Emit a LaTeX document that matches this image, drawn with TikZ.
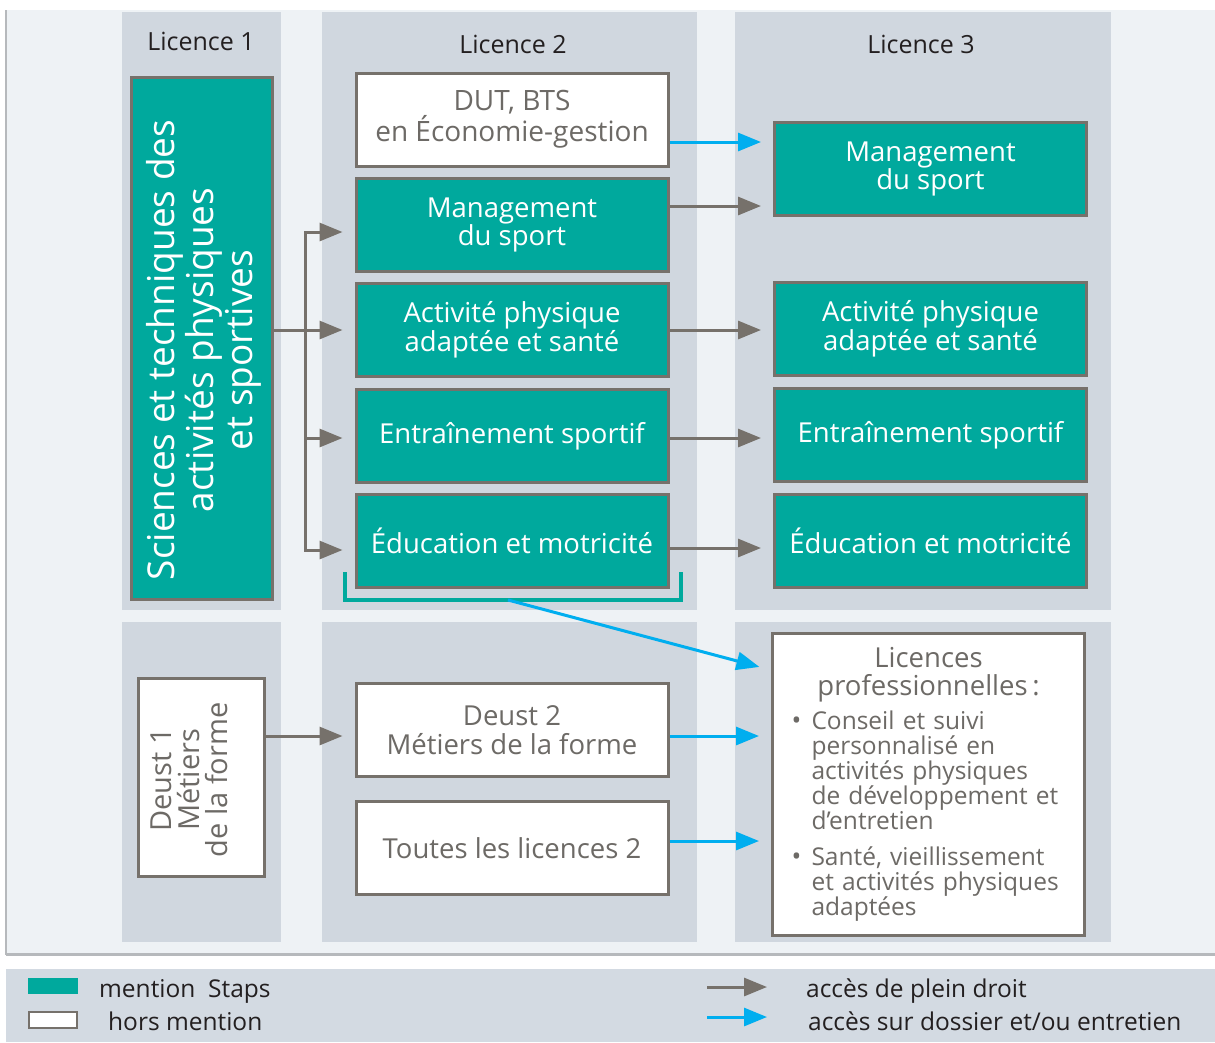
\documentclass[tikz,border=0pt]{standalone}
\usepackage{fontspec}
\setmainfont{Open Sans}
\usetikzlibrary{arrows.meta}
\definecolor{vertstaps}{HTML}{00A99D}
\definecolor{cadre}{HTML}{76716B}
\definecolor{bleuacces}{HTML}{00AEEF}
\definecolor{fondclair}{HTML}{EEF2F5}
\definecolor{fondfonce}{HTML}{D0D7DF}
\definecolor{fondlegende}{HTML}{D3DAE2}
\definecolor{grisbord}{HTML}{B6B9BC}
\definecolor{gristexte}{HTML}{6D6A66}
\definecolor{noirtexte}{HTML}{231F20}
\newcommand\puce{\hskip-20pt\makebox[20pt][l]{\fontsize{26}{26}\selectfont\raisebox{0pt}{\textbullet}}}
\begin{document}
\begin{tikzpicture}[x=1pt,y=-1pt,
    mention/.style={draw=cadre, line width=3pt, fill=vertstaps, text=white,
      font=\fontsize{27.5}{28.5}\selectfont, align=center, inner sep=0pt,
      minimum width=312pt, minimum height=93pt},
    hors/.style={mention, fill=white, text=gristexte},
    entete/.style={text=noirtexte, font=\fontsize{25}{28}\selectfont},
    legende/.style={text=noirtexte, font=\fontsize{24.5}{26}\selectfont, anchor=base west, inner sep=0pt},
    plein/.style={draw=cadre, line width=3pt, -{Triangle[length=23pt,width=18pt]}, shorten >=12pt},
    dossier/.style={plein, draw=bleuacces}]
  \useasboundingbox[fill=white] (0,0) rectangle (1215,1042);
  % fonds
  \fill[fondclair] (6,10) rectangle (1215,955);
  \draw[grisbord, line width=1.5pt] (6,10) -- (6,955);
  \draw[grisbord, line width=3pt] (6,954) -- (1215,954);
  \foreach \xa/\xb in {122/281, 322/697, 735/1111} {
    \fill[fondfonce] (\xa,12) rectangle (\xb,610);
    \fill[fondfonce] (\xa,622) rectangle (\xb,942);
  }
  \fill[fondlegende] (6,969) rectangle (1215,1042);
  % en-tetes
  \node[entete] (l1) at (201,41) {Licence 1};
  \node[entete] (l2) at (513,44) {Licence 2};
  \node[entete] (l3) at (921,44) {Licence 3};
  % licence 1
  \node[mention, minimum width=141pt, minimum height=522pt] (sts) at (202,338.5) {};
  \node[rotate=90, text=white, align=center, font=\fontsize{37}{39}\selectfont] (ststxt) at (204,350)
    {Sciences et techniques des\\activités physiques\\et sportives};
  % licence 2
  \node[hors, font=\fontsize{28}{29}\selectfont] (dut2) at (512,119.5) {DUT, BTS\\en Économie-gestion};
  \node[mention] (mgmt2) at (512,225) {Management\\du sport};
  \node[mention] (act2) at (512,330) {Activité physique\\adaptée et santé};
  \node[mention] (entr2) at (512,436) {Entraînement sportif};
  \node[mention] (educ2) at (512,541) {Éducation et motricité};
  % licence 3
  \node[mention] (mgmt3) at (930.5,169) {Management\\du sport};
  \node[mention] (act3) at (930.5,329) {Activité physique\\adaptée et santé};
  \node[mention] (entr3) at (930.5,435) {Entraînement sportif};
  \node[mention] (educ3) at (930.5,541) {Éducation et motricité};
  % hors mention
  \node[hors, minimum width=126pt, minimum height=198pt] (deust1) at (201.5,777.5) {};
  \node[rotate=90, text=gristexte, align=center, font=\fontsize{29}{28}\selectfont] (deusttxt) at (189,780)
    {Deust 1\\Métiers\\de la forme};
  \node[hors] (deust2) at (512,730) {Deust 2\\Métiers de la forme};
  \node[hors] (toutes) at (512,848) {Toutes les licences 2};
  \node[hors, minimum width=312pt, minimum height=302pt, text width=282pt, align=left,
    font=\fontsize{24.5}{25}\selectfont] (pro) at (928.5,784)
    {\parindent=0pt
     {\centering\fontsize{27.5}{28}\selectfont Licences\\professionnelles\,:\par}
     \vspace{8pt}
     {\leftskip=24pt \puce Conseil et suivi\\personnalisé en\\activités physiques\\de développement et\\d’entretien\par}
     \vspace{11pt}
     {\leftskip=24pt \puce Santé, vieillissement\\et activités physiques\\adaptées\par}};
  % licence 1 -> licence 2
  \coordinate (fh) at (305,232);
  \coordinate (fb) at (305,550);
  \draw[plein] (sts.east |- act2) -- (act2);
  \draw[plein] (fb) |- (mgmt2.west |- fh);
  \draw[plein] (fh) |- (educ2.west |- fb);
  \draw[plein] (fh |- 0,438) -- (entr2.west |- 0,438);
  % licence 2 -> licence 3
  \draw[dossier] (dut2.east |- 0,142) -- (mgmt3.west |- 0,142);
  \draw[plein] (mgmt2.east |- 0,206) -- (mgmt3.west |- 0,206);
  \draw[plein] (act2.east) -- (act3.west |- act2.east);
  \draw[plein] (entr2.east |- 0,438) -- (entr3.west |- 0,438);
  \draw[plein] (educ2.east |- 0,548) -- (educ3.west |- 0,548);
  % vers licences professionnelles
  \draw[vertstaps, line width=4pt] (345,572) -- (345,600) -- (681,600) -- (681,572);
  \coordinate (crochet) at (508,600);
  \draw[dossier] (crochet) -- (pro.west |- 0,670);
  \draw[plein] (deust1.east |- 0,736) -- (deust2.west |- 0,736);
  \draw[dossier] (deust2.east |- 0,736) -- (pro.west |- 0,736);
  \draw[dossier] (toutes.east |- 0,841) -- (pro.west |- 0,841);
  % legende
  \node[fill=vertstaps, minimum width=50pt, minimum height=16pt, inner sep=0pt] (legm) at (53,986) {};
  \node[draw=cadre, fill=white, line width=1.5pt, minimum width=48pt, minimum height=16pt, inner sep=0pt] (legh) at (53,1020) {};
  \node[legende] (legmtxt) at (99,997) {mention\ \ Staps};
  \node[legende] (leghtxt) at (108,1030) {hors mention};
  \coordinate (pa) at (707,987);
  \coordinate (pb) at (767,987);
  \coordinate (da) at (707,1017);
  \coordinate (db) at (767,1017);
  \draw[plein, shorten >=0pt] (pa) -- (pb);
  \draw[dossier, shorten >=0pt] (da) -- (db);
  \node[legende] (patxt) at (806,997) {accès de plein droit};
  \node[legende] (datxt) at (808,1030) {accès sur dossier et/ou entretien};
\end{tikzpicture}
\end{document}
